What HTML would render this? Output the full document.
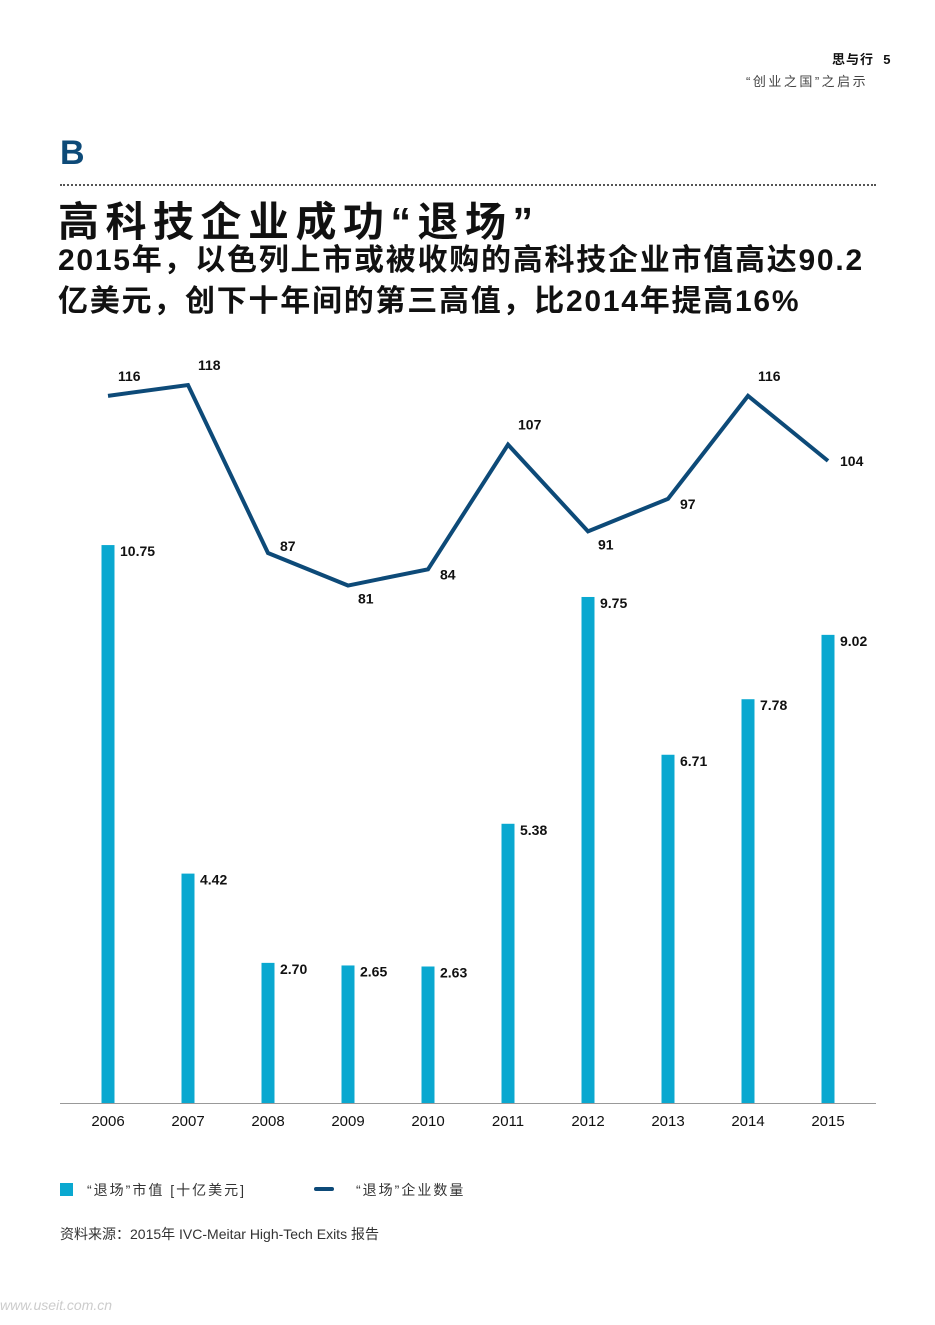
<!DOCTYPE html>
<html><head><meta charset="utf-8"><style>
body{margin:0;width:935px;height:1325px;background:#fff;position:relative;font-family:"Liberation Sans","Noto Sans CJK SC",sans-serif;color:#111;overflow:hidden}
.a{position:absolute;white-space:nowrap}
</style></head><body>
<div class="a" style="left:832px;top:49px;font-size:13px;font-weight:bold;letter-spacing:1px">思与行 &nbsp;5</div>
<div class="a" style="left:746px;top:71px;font-size:13px;color:#444;letter-spacing:2.5px">“创业之国”之启示</div>
<div class="a" style="left:60px;top:134px;font-size:34px;font-weight:bold;color:#0d4a78">B</div>
<div class="a" style="left:60px;top:184px;width:816px;border-top:2px dotted #555"></div>
<div class="a" style="left:58px;top:188px;font-size:41px;font-weight:bold;letter-spacing:6.5px">高科技企业成功“退场”</div>
<div class="a" style="left:58px;top:240px;font-size:30px;line-height:41px;font-weight:bold;letter-spacing:1.75px">2015年，以色列上市或被收购的高科技企业市值高达90.2<br>亿美元，创下十年间的第三高值，比2014年提高16%</div>
<svg class="a" style="left:0;top:0" width="935" height="1180" id="c"></svg>
<div class="a" style="left:60px;top:1180px;font-size:14px;color:#333;letter-spacing:2px"><span style="display:inline-block;width:13px;height:13px;background:#0aa8d0;vertical-align:-1px;margin-right:14px"></span>“退场”市值 [十亿美元]</div>
<div class="a" style="left:314px;top:1180px;font-size:14px;color:#333;letter-spacing:2px"><span style="display:inline-block;width:20px;height:4px;border-radius:2px;background:#0d4a78;vertical-align:4px;margin-right:22px"></span>“退场”企业数量</div>
<div class="a" style="left:60px;top:1224px;font-size:14px;color:#333">资料来源：2015年 IVC-Meitar High-Tech Exits 报告</div>
<div class="a" style="left:0;top:1297px;font-size:14px;color:#ccc;font-style:italic">www.useit.com.cn</div>
<script>
const years=["2006","2007","2008","2009","2010","2011","2012","2013","2014","2015"];
const values=[10.75,4.42,2.70,2.65,2.63,5.38,9.75,6.71,7.78,9.02];
const counts=[116,118,87,81,84,107,91,97,116,104];
const countPlace=["above","above","aboveRight","below","belowRight","above","below","belowRight","above","right"];
const svg=document.getElementById('c');const NS="http://www.w3.org/2000/svg";
const xs=i=>108+i*80;const yb=v=>1103-v*51.9;const yl=v=>385+(118-v)*5.42;
function mk(t,a){const e=document.createElementNS(NS,t);for(const k in a)e.setAttribute(k,a[k]);svg.appendChild(e);return e;}
const ax=mk('line',{x1:60,x2:876,y1:1103.5,y2:1103.5,stroke:'#999','stroke-width':1});


values.forEach((v,i)=>{
const r=mk('rect',{x:xs(i)-6.5,y:yb(v),width:13,height:1103-yb(v),fill:'#0aa8d0'});


const t=mk('text',{x:xs(i)+12,y:yb(v)+11,'font-size':14,'font-weight':'bold',fill:'#111'});t.textContent=v.toFixed(2);


const l=mk('text',{x:xs(i),y:1126,'font-size':15,'text-anchor':'middle',fill:'#111'});l.textContent=years[i];


});
const p=mk('polyline',{points:counts.map((v,i)=>xs(i)+','+yl(v)).join(' '),fill:'none',stroke:'#0d4a78','stroke-width':4,'stroke-linejoin':'miter'});


counts.forEach((v,i)=>{
let x=xs(i),y=yl(v),dx=10,dy=0;
const pl=countPlace[i];
if(pl=='above'){dy=-20;} if(pl=='below'){dy=13;} if(pl=='aboveRight'){dx=12;dy=-7;}
if(pl=='belowRight'){dx=12;dy=5;} if(pl=='right'){dx=12;dy=0;}
const t=mk('text',{x:x+dx,y:y+dy+5,'font-size':14,'font-weight':'bold',fill:'#111'});t.textContent=v;


});
</script>
</body></html>
